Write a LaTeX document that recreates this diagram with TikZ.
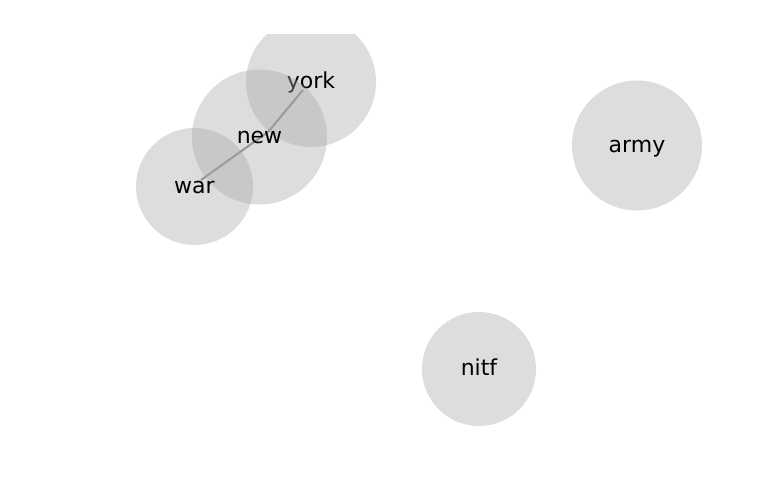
\documentclass[tikz,border=0pt]{standalone}
\usepackage{fontspec}
\setmainfont{DejaVu Sans}
\usetikzlibrary{backgrounds}
\definecolor{wordgray}{RGB}{166,166,166}
\definecolor{linkgray}{RGB}{140,140,140}
\begin{document}
\begin{tikzpicture}[x=1pt,y=-1pt,
        word/.style={circle,fill=wordgray,fill opacity=0.38,text opacity=1,inner sep=0pt,text height=13.5pt,text depth=0pt,font=\fontsize{22}{26}\selectfont},
        link/.style={draw=linkgray,line width=2pt}]
        \useasboundingbox (0,0) rectangle (768,500);
        \begin{scope}
            \clip (0,35) rectangle (768,500);
            \node[word,minimum size=130pt] (york) at (311,82) {york};
        \end{scope}
        \node[word,minimum size=135pt] (new) at (259.5,137) {new};
        \node[word,minimum size=117pt] (war) at (194.5,186.5) {war};
        \node[word,minimum size=130pt] (army) at (637,145.5) {army};
        \node[word,minimum size=114pt] (nitf) at (479,369) {nitf};
        \begin{scope}[on background layer]
            \draw[link] ([shift={(6.5,-6.5)}]war.center) -- ([shift={(8.5,-5)}]new.center) -- ([shift={(-8,8)}]york.center);
        \end{scope}
    \end{tikzpicture}
\end{document}
